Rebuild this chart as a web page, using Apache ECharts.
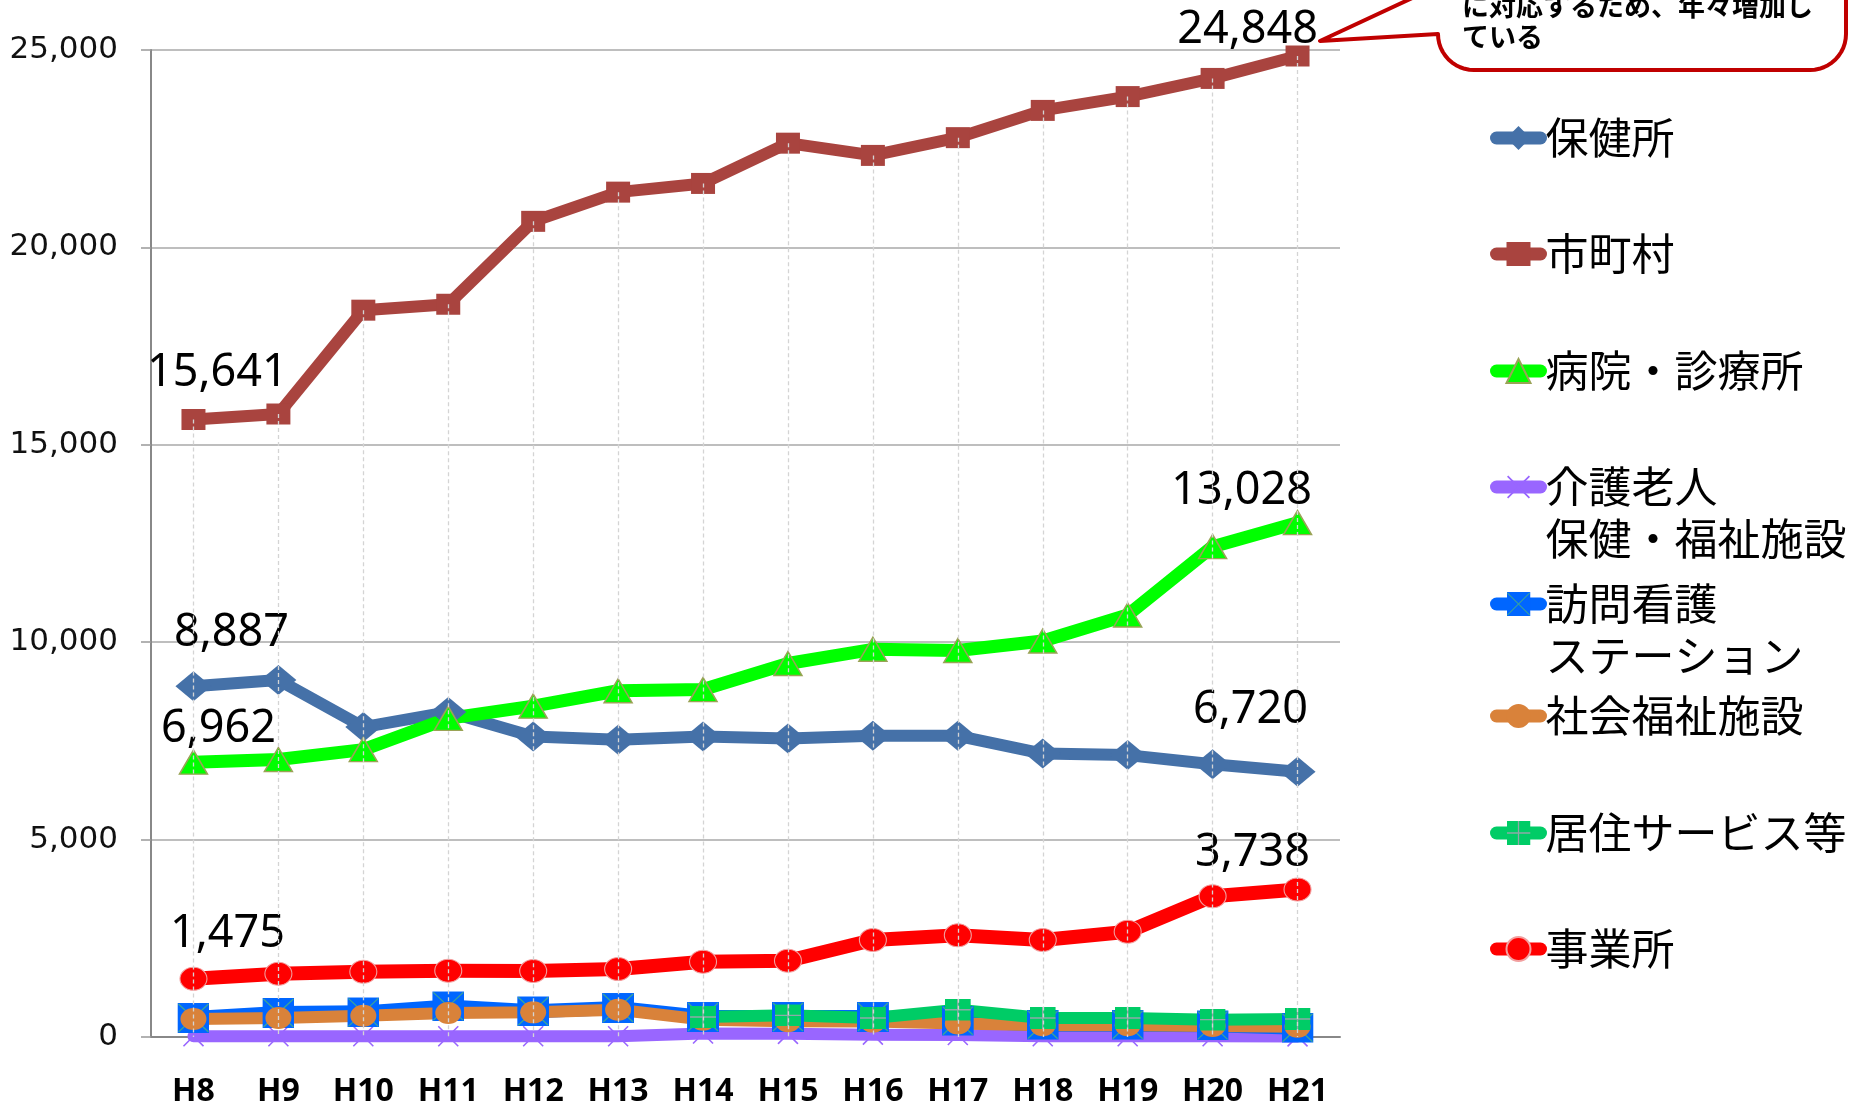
<!DOCTYPE html>
<html><head><meta charset="utf-8">
<script src="https://cdn.jsdelivr.net/npm/echarts@6/dist/echarts.min.js"></script>
<style>html,body{margin:0;padding:0;background:#fff}#chart{width:1854px;height:1113px}</style>
</head><body><div id="chart"></div>
<script>
// ---- data ----
const categories = ['H8','H9','H10','H11','H12','H13','H14','H15','H16','H17','H18','H19','H20','H21'];
const seriesNames = ['保健所','市町村','病院・診療所','介護老人保健・福祉施設','訪問看護ステーション','社会福祉施設','居住サービス等','事業所'];
const hokenjo   = [8887, 9040, 7850, 8230, 7610, 7530, 7610, 7560, 7630, 7630, 7180, 7140, 6910, 6720];
const shichoson = [15641, 15780, 18410, 18560, 20660, 21400, 21620, 22640, 22330, 22780, 23470, 23820, 24280, 24848];
const byoin     = [6962, 7030, 7280, 8070, 8380, 8770, 8800, 9460, 9820, 9790, 10030, 10690, 12420, 13028];
const kaigo     = [20, 20, 20, 20, 20, 20, 90, 80, 60, 50, 20, 20, 20, 15];
const houmon    = [481, 608, 624, 776, 650, 734, 506, 506, 506, 413, 311, 311, 295, 236];
const shakai    = [456, 481, 540, 608, 624, 692, 440, 400, 390, 340, 300, 300, 280, 260];
const kyoju     = [null, null, null, null, null, null, 506, 548, 481, 692, 481, 481, 439, 456];
const jigyo     = [1475, 1603, 1654, 1680, 1672, 1722, 1907, 1933, 2458, 2576, 2458, 2668, 3564, 3738];
const yMin = 0, yMax = 25000, yInterval = 5000;
const calloutLines = ['に対応するため、年々増加し', 'ている'];

// ---- helpers ----
const fmt = v => Number(v).toLocaleString('en-US');
const svgSym = s => 'image://data:image/svg+xml;charset=utf-8,' + encodeURIComponent(s);
const symHoumon = svgSym("<svg xmlns='http://www.w3.org/2000/svg' width='32' height='30' viewBox='0 0 32 30'><rect width='32' height='30' fill='#0066FF'/><path d='M1,1L31,29M31,1L1,29' stroke='#3AA598' stroke-width='1.3'/></svg>");
const symKyoju = svgSym("<svg xmlns='http://www.w3.org/2000/svg' width='26' height='22' viewBox='0 0 26 22'><rect width='26' height='22' fill='#00CC66'/><path d='M13,0V22M0,11H26' stroke='#8FA8A8' stroke-width='1.4'/></svg>");
const symKaigo = svgSym("<svg xmlns='http://www.w3.org/2000/svg' width='22' height='22' viewBox='0 0 22 22'><path d='M1,1L21,21M21,1L1,21' stroke='#9966FF' stroke-width='1.6'/></svg>");

function labeled(values, offFirst, offLast) {
  const last = values.length - 1;
  return values.map((v, i) => {
    if (i === 0 && offFirst) return {value: v, label: {show: true, offset: offFirst}};
    if (i === last && offLast) return {value: v, label: {show: true, offset: offLast}};
    return v;
  });
}
const labelBase = {
  show: false, position: 'inside', align: 'center', verticalAlign: 'middle',
  fontFamily: 'Noto Sans', fontSize: 45, color: '#000',
  formatter: p => fmt(p.value)
};
function line(name, data, color, width, symbol, size, itemExtra) {
  return {
    name, type: 'line', data, showAllSymbol: true,
    symbol, symbolSize: size,
    lineStyle: {color, width, cap: 'round', join: 'round'},
    itemStyle: Object.assign({color}, itemExtra || {}),
    label: labelBase,
    emphasis: {disabled: true},
    connectNulls: false
  };
}

const series = [
  line(seriesNames[0], labeled(hokenjo, [38, -53], [-47, -62]), '#4571A8', 12, 'diamond', [36, 30]),
  Object.assign(line(seriesNames[1], labeled(shichoson, [24, -46], [-50, -26]), '#A9443F', 12, 'rect', [24, 21]), {
    markLine: {
      silent: true, symbol: ['none', 'none'], animation: false,
      label: {show: false},
      lineStyle: {color: '#D4D4D4', width: 1.3, type: [4, 3]},
      data: categories.map((c, i) => [{coord: [i, shichoson[i]]}, {coord: [i, 0]}])
    }
  }),
  line(seriesNames[2], labeled(byoin, [25, -33], [-56, -31]), '#00FF00', 13, 'triangle', [28, 24], {borderColor: '#9AA356', borderWidth: 1.5}),
  line(seriesNames[3], kaigo, '#9966FF', 12, symKaigo, [22, 22]),
  line(seriesNames[4], houmon, '#0066FF', 14, symHoumon, [32, 30]),
  line(seriesNames[5], shakai, '#D9823A', 12, 'circle', [26, 22]),
  line(seriesNames[6], kyoju, '#00CC66', 12, symKyoju, [26, 22]),
  line(seriesNames[7], labeled(jigyo, [34, -45], [-45, -36]), '#FF0000', 14, 'circle', [27, 23], {borderColor: '#F2A0A0', borderWidth: 1})
];

// legend: one component per item so each sits where the reference puts it
const legendCenters = [138, 254, 371, 487, 604, 716, 833, 949];
const legendLH = 52;
const legendText = {
  '介護老人保健・福祉施設': '\n介護老人\n保健・福祉施設',
  '訪問看護ステーション': '\n訪問看護\nステーション'
};
const legends = seriesNames.map((n, i) => {
  const two = !!legendText[n];
  return {
    data: [n], left: 1490, top: legendCenters[i] - (two ? 1.5 * legendLH : 0.5 * legendLH),
    orient: 'vertical', padding: 0, itemGap: 0, itemWidth: 44, itemHeight: 30,
    selectedMode: false,
    formatter: name => legendText[name] || name,
    textStyle: {fontFamily: 'Noto Sans CJK JP', fontSize: 43, lineHeight: legendLH, color: '#000'},
    lineStyle: {width: 13, cap: 'round'}
  };
});

// callout balloon outline (decoration)
function calloutPoints() {
  const pts = [[1320, 41], [1438, 34]];
  const r = 36;
  for (let k = 0; k <= 12; k++) { const a = Math.PI - k * Math.PI / 24; pts.push([1474 + r * Math.cos(a), 34 + r * Math.sin(a)]); }
  for (let k = 0; k <= 12; k++) { const a = Math.PI / 2 - k * Math.PI / 24; pts.push([1810 + r * Math.cos(a), 34 + r * Math.sin(a)]); }
  pts.push([1846, -60], [1438, -60], [1438, -14]);
  return pts;
}

const chart = echarts.init(document.getElementById('chart'), null, {renderer: 'canvas'});
chart.setOption({
  animation: false,
  backgroundColor: '#fff',
  grid: {left: 151, right: 514, top: 50, bottom: 76, containLabel: false},
  xAxis: {
    type: 'category', data: categories, boundaryGap: true,
    axisLine: {lineStyle: {color: '#888', width: 2}},
    axisTick: {show: false},
    axisLabel: {fontFamily: 'Noto Sans', fontWeight: 'bold', fontSize: 32, color: '#000', margin: 39, lineHeight: 32, interval: 0},
    splitLine: {show: false}
  },
  yAxis: {
    type: 'value', min: yMin, max: yMax, interval: yInterval,
    axisLine: {show: true, lineStyle: {color: '#888', width: 2}},
    axisTick: {show: true, length: 10, lineStyle: {color: '#999', width: 1.5}},
    axisLabel: {fontFamily: 'DejaVu Sans', fontSize: 31, color: '#111', margin: 33, formatter: v => fmt(v)},
    splitLine: {show: true, lineStyle: {color: '#A8A8A8', width: 1.5}}
  },
  legend: legends,
  series,
  graphic: [
    {type: 'polygon', shape: {points: calloutPoints()}, style: {fill: '#fff', stroke: '#C00000', lineWidth: 4, lineJoin: 'round'}, z: 100},
    {type: 'text', x: 1462, y: 6, style: {text: calloutLines[0], font: 'bold 27px "Noto Sans CJK JP"', fill: '#000', verticalAlign: 'middle'}, z: 101},
    {type: 'text', x: 1462, y: 37, style: {text: calloutLines[1], font: 'bold 27px "Noto Sans CJK JP"', fill: '#000', verticalAlign: 'middle'}, z: 101}
  ]
});
</script>
</body></html>
